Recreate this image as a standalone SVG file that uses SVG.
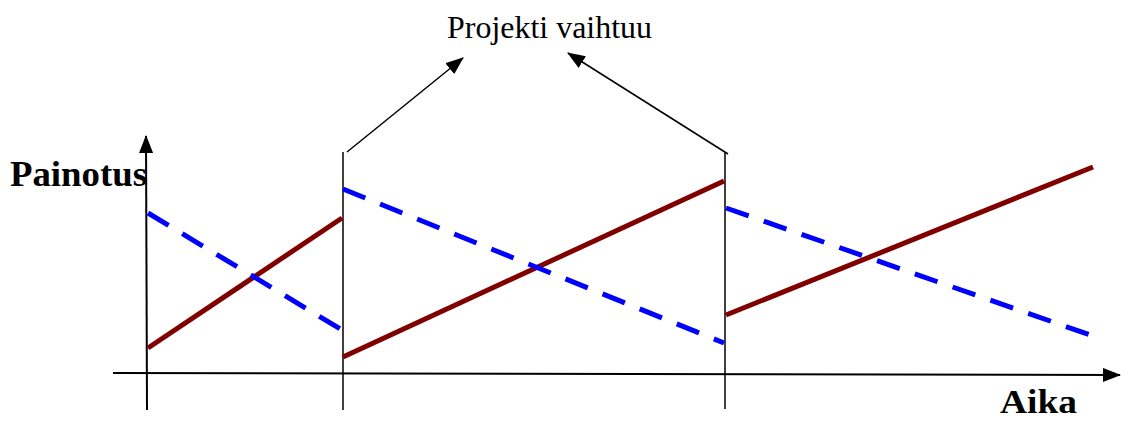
<svg xmlns="http://www.w3.org/2000/svg" width="1123" height="421" viewBox="0 0 1123 421">
<style>
.ax{stroke:#000;stroke-width:2;fill:none}
.thin{stroke:#000;stroke-width:1.5;fill:none}
.red{stroke:#800000;stroke-width:5;fill:none}
.blue{stroke:#0000ff;stroke-width:5;fill:none;stroke-dasharray:24 16}
.lbl{font-family:'Times New Roman','Liberation Serif',serif;fill:#000}
</style>
<defs>
<marker id="ahs" markerWidth="18" markerHeight="14" refX="17" refY="7" orient="auto" markerUnits="userSpaceOnUse" viewBox="0 0 18 14">
<path d="M0,0 L18,7 L0,14 z" fill="#000"/>
</marker>
</defs>
<g id="axes">
<line class="ax" x1="147" y1="410" x2="146" y2="136" marker-end="url(#ahs)"/>
<line class="ax" x1="113" y1="373" x2="1120" y2="375" marker-end="url(#ahs)"/>
</g>
<g id="dividers">
<line class="thin" x1="343" y1="152" x2="343" y2="410"/>
<line class="thin" x1="725" y1="152" x2="725" y2="409"/>
</g>
<g id="series">
<line class="red" x1="148" y1="348" x2="342" y2="218"/>
<line class="red" x1="343" y1="357" x2="724" y2="181"/>
<line class="red" x1="726" y1="315" x2="1093" y2="167"/>
<line class="blue" x1="148" y1="213" x2="342" y2="330"/>
<line class="blue" x1="343" y1="189" x2="724" y2="343"/>
<line class="blue" x1="726" y1="208" x2="1096" y2="337"/>
</g>
<g id="connectors">
<line class="thin" x1="347" y1="152" x2="463" y2="58" marker-end="url(#ahs)"/>
<line class="thin" x1="728" y1="154" x2="568" y2="53" marker-end="url(#ahs)"/>
</g>
<g id="labels">
<text class="lbl" x="447" y="38" font-size="31" textLength="205" lengthAdjust="spacingAndGlyphs">Projekti vaihtuu</text>
<text class="lbl" x="10" y="186" font-size="36" font-weight="bold" textLength="137" lengthAdjust="spacingAndGlyphs">Painotus</text>
<text class="lbl" x="1000" y="413" font-size="33" font-weight="bold" textLength="77" lengthAdjust="spacingAndGlyphs">Aika</text>
</g>
</svg>
